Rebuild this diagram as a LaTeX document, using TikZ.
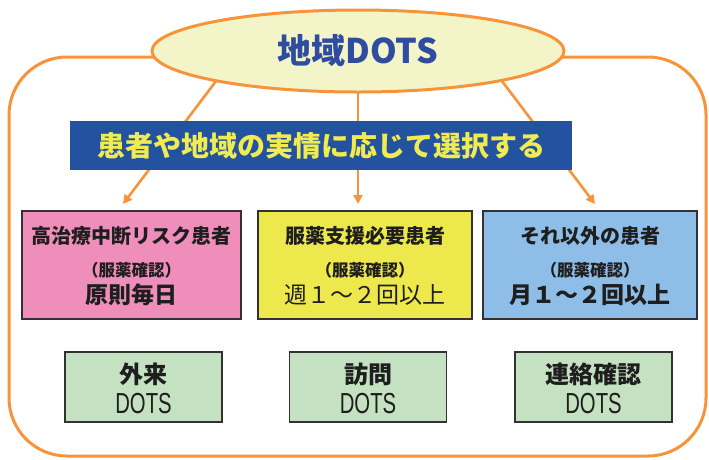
\documentclass[tikz,border=0pt]{standalone}
\usepackage{fontspec}
\usepackage{graphicx}
\setmainfont{Liberation Sans}
\newfontfamily\jp{Noto Sans CJK JP}
\usetikzlibrary{arrows.meta,shapes.geometric}
\definecolor{orangeC}{RGB}{247,148,58}
\definecolor{ellC}{RGB}{243,245,200}
\definecolor{titleC}{RGB}{46,76,160}
\definecolor{bannerC}{RGB}{35,83,160}
\definecolor{bannerT}{RGB}{240,235,80}
\definecolor{pinkC}{RGB}{240,142,187}
\definecolor{yellowC}{RGB}{237,233,76}
\definecolor{blueC}{RGB}{142,190,232}
\definecolor{greenC}{RGB}{196,225,194}
\definecolor{edgeC}{RGB}{50,50,50}
\definecolor{textC}{RGB}{30,30,30}
\begin{document}
\begin{tikzpicture}[x=1pt,y=-1pt,
  frame/.style={draw=orangeC, line width=3pt, rounded corners=58pt, minimum width=697pt, minimum height=399pt, inner sep=0pt},
  arr/.style={draw=orangeC, line width=2.6pt, -{Triangle[length=9pt,width=9pt]}},
  catbox/.style={draw=edgeC, line width=1.3pt, minimum height=108pt, inner sep=0pt},
  dotsbox/.style={draw=edgeC, line width=1.3pt, fill=greenC, minimum width=157pt, minimum height=70pt, inner sep=0pt},
  headtxt/.style={text=textC, inner sep=0pt, font=\jp\bfseries\fontsize{20}{20}\selectfont},
  subtxt/.style={text=textC, inner sep=0pt, font=\jp\bfseries\fontsize{16.5}{16.5}\selectfont},
  freqtxt/.style={text=textC, inner sep=0pt, font=\jp\bfseries\fontsize{23}{23}\selectfont},
  freqreg/.style={text=textC, inner sep=0pt, font=\jp\fontsize{23}{23}\selectfont},
  kindtxt/.style={text=textC, inner sep=0pt, font=\jp\bfseries\fontsize{24}{24}\selectfont},
  dotstxt/.style={text=textC, inner sep=0pt, font=\fontsize{29}{29}\selectfont}]
\useasboundingbox (0,0) rectangle (709,459);
% outer frame
\node[frame] (outer) at (357.5,256.5) {};
% connectors (behind ellipse and banner)
\coordinate (s1) at (232,60);
\coordinate (t1) at (123,204);
\coordinate (s2) at (358,60);
\coordinate (t2) at (358,204);
\coordinate (s3) at (486,60);
\coordinate (t3) at (595,204);
\draw[arr] (s1) -- (t1);
\draw[arr] (s2) -- (t2);
\draw[arr] (s3) -- (t3);
% title ellipse
\node[ellipse, draw=orangeC, line width=3pt, fill=ellC, minimum width=412pt, minimum height=82pt, inner sep=0pt,
      text=titleC, font=\jp\bfseries\fontsize{34}{34}\selectfont] (title) at (358,51) {地域DOTS};
% banner
\node[fill=bannerC, minimum width=502pt, minimum height=49pt, inner sep=0pt,
      text=bannerT, font=\jp\bfseries\fontsize{28}{28}\selectfont] (banner) at (321,145.5) {患者や地域の実情に応じて選択する};
% category boxes
\node[catbox, fill=pinkC, minimum width=219pt] (pink) at (131.5,265) {};
\node[catbox, fill=yellowC, minimum width=214pt] (yel) at (365,265) {};
\node[catbox, fill=blueC, minimum width=214pt] (blu) at (590,265) {};
\node[headtxt] (pinkA) at (131.5,236) {高治療中断リスク患者};
\node[subtxt] (pinkB) at (131.5,270) {（服薬確認）};
\node[freqtxt] (pinkC) at (131.5,295) {原則毎日};
\node[headtxt] (yelA) at (365,236) {服薬支援必要患者};
\node[subtxt] (yelB) at (365,270) {（服薬確認）};
\node[freqreg] (yelC) at (365,295) {週１～２回以上};
\node[headtxt] (bluA) at (590,236) {それ以外の患者};
\node[subtxt] (bluB) at (590,270) {（服薬確認）};
\node[freqtxt] (bluC) at (590,295) {月１～２回以上};
% DOTS boxes
\node[dotsbox] (g1) at (143.5,387) {};
\node[dotsbox] (g2) at (368,387) {};
\node[dotsbox] (g3) at (593.5,387) {};
\node[kindtxt] (g1a) at (143.5,374) {外来};
\node[dotstxt] (g1b) at (143.5,404) {\scalebox{0.7}[1]{DOTS}};
\node[kindtxt] (g2a) at (368,374) {訪問};
\node[dotstxt] (g2b) at (368,404) {\scalebox{0.7}[1]{DOTS}};
\node[kindtxt] (g3a) at (593.5,374) {連絡確認};
\node[dotstxt] (g3b) at (593.5,404) {\scalebox{0.7}[1]{DOTS}};
\end{tikzpicture}
\end{document}
